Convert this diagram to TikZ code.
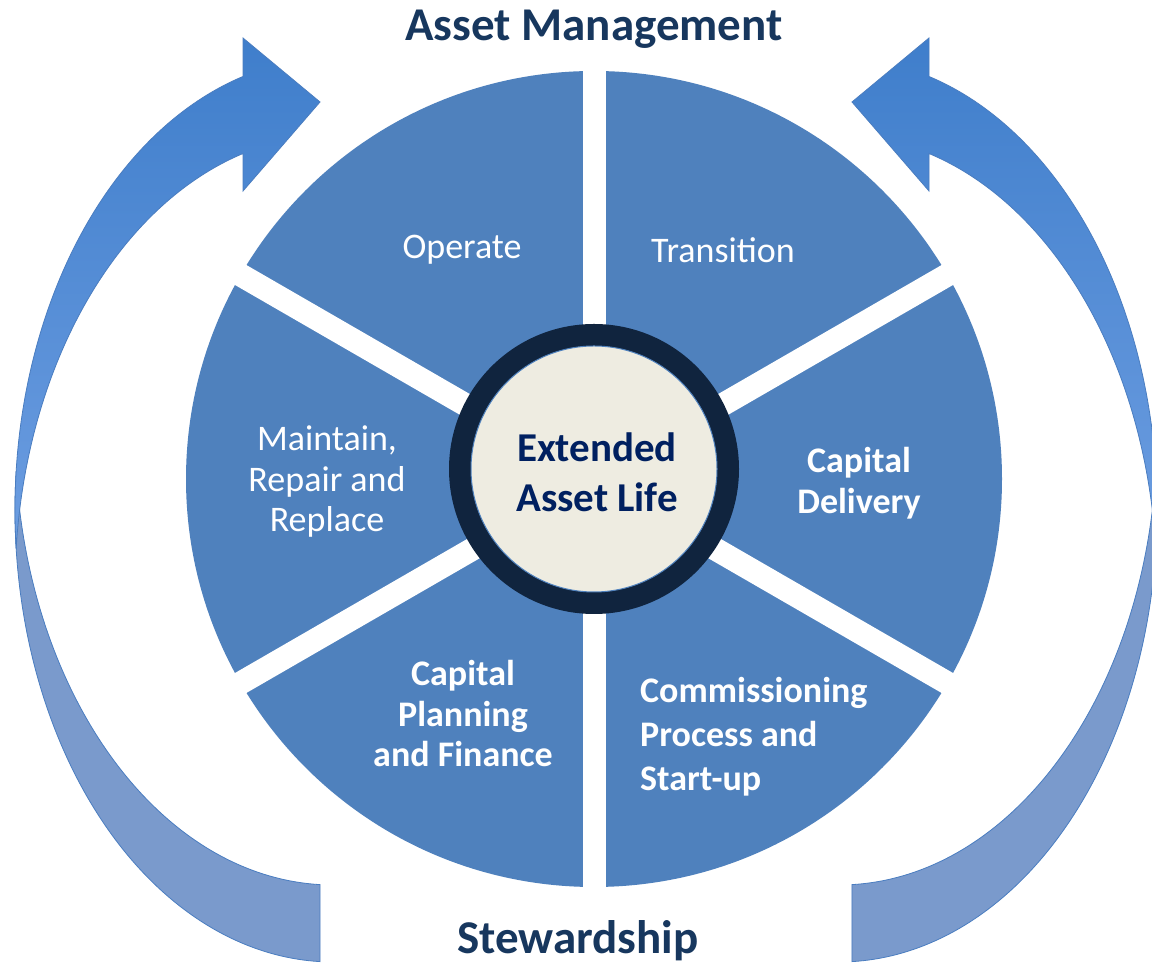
\documentclass[tikz,border=0pt]{standalone}
\usepackage{fontspec}
\setmainfont{Carlito}
\usepackage{tikz}
\definecolor{wheelBlue}{HTML}{4F81BD}
\definecolor{ringNavy}{HTML}{10243E}
\definecolor{discCream}{HTML}{EEECE1}
\definecolor{coreNavy}{HTML}{002060}
\definecolor{titleNavy}{HTML}{17375E}
\definecolor{arrowTop}{HTML}{3F7ECB}
\definecolor{arrowMid}{HTML}{6C9DE1}
\definecolor{arrowTail}{HTML}{7A9ACC}
\definecolor{arrowEdge}{HTML}{4A7DC0}
% curved arrow made of two crescents, head at the top, tail at the bottom
\newcommand{\SweepArrow}{
	\def\ra{318pt}
	\def\rb{452pt}
	% tail crescent
	\filldraw[draw=arrowEdge, fill=arrowTail, line width=0.8pt] (16.16,494.5)
		arc[start angle=175.11, end angle=267.66, x radius=\ra, y radius=\rb] -- ++(0,77)
		arc[start angle=267.66, end angle=184.89, x radius=\ra, y radius=\rb] -- cycle;
	% head crescent, shaded
	\path[draw=arrowEdge, line width=0.8pt, top color=arrowTop, bottom color=arrowMid] (243,889.5)
		arc[start angle=106.44, end angle=184.89, x radius=\ra, y radius=\rb]
		arc[start angle=175.11, end angle=106.44, x radius=\ra, y radius=\rb]
		-- (243,775) -- (320,864) -- (243,928) -- cycle;
}

\begin{document}
\begin{tikzpicture}[x=1pt, y=1pt,
		segText/.style={text=white, align=center, inner sep=0pt, font=\fontsize{36}{40.5}\selectfont},
		segBold/.style={segText, font=\fontsize{36}{40.5}\selectfont\bfseries},
		headline/.style={text=titleNavy, inner sep=0pt, font=\fontsize{47}{56}\selectfont\bfseries}
	]
	\useasboundingbox (0,0) rectangle (1152,966);
	\fill[white] (0,0) rectangle (1152,966);

	\coordinate (pie) at (594,487);
	\coordinate (hub) at (594,497);

	% arrows on both sides
	\SweepArrow
	\begin{scope}[xshift=1172pt, xscale=-1]
		\SweepArrow
	\end{scope}

	% the wheel, cut into six by white gaps
	\fill[wheelBlue] (pie) circle[radius=408pt];
	\foreach \a in {30,90,...,330}
		\draw[white, line width=23pt] (pie) -- ++(\a:412pt);

	\fill[ringNavy] (hub) circle[radius=145pt];
	\filldraw[fill=discCream, draw=wheelBlue, line width=1pt] (hub) circle[radius=123pt];

	\node[text=coreNavy, align=center, inner sep=0pt, font=\fontsize{41}{50}\selectfont\bfseries] (core) at (597,494) {Extended\\Asset Life};

	\node[segText] (operate) at (462,716) {Operate};
	\node[segText] (transition) at (723,716) {Transition};
	\node[segText] (maintain) at (327,484) {Maintain,\\Repair and\\Replace};
	\node[segBold] (delivery) at (859,483) {Capital\\Delivery};
	\node[segBold] (planning) at (463,252) {Capital\\Planning\\and Finance};
	\node[segBold, align=left, anchor=west, font=\fontsize{36}{44}\selectfont\bfseries] (commissioning) at (640,229) {Commissioning\\Process and\\Start-up};

	\node[headline] (title) at (594,937) {Asset Management};
	\node[headline] (stewardship) at (578,25) {Stewardship};
\end{tikzpicture}
\end{document}
